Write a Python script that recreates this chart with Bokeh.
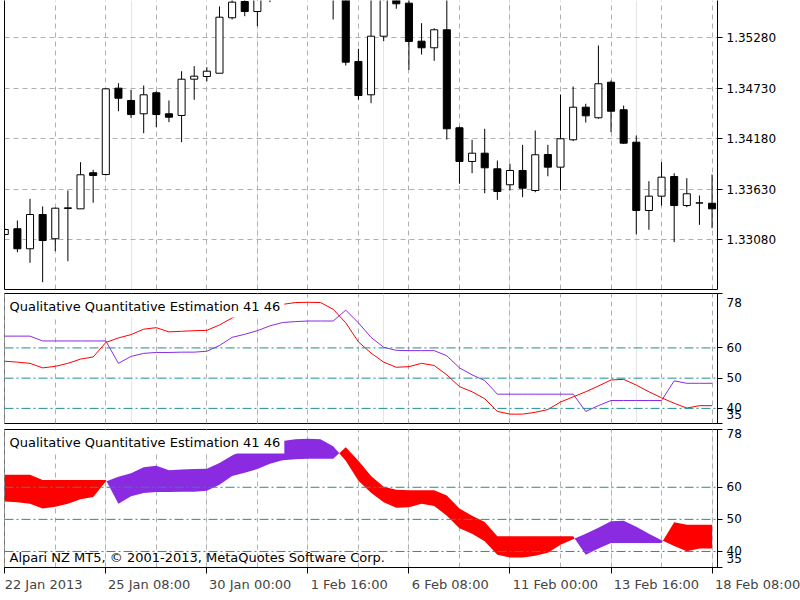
import numpy as np
from bokeh.plotting import figure
from bokeh.layouts import column
from bokeh.models import (Range1d, FixedTicker, LinearAxis, Grid, Span, Label,
                          NumeralTickFormatter)
from bokeh.embed import file_html
from bokeh.resources import INLINE

# ---------------- data ----------------
date_ticks = [0, 8, 16, 24, 32, 40, 48, 56]
date_labels = ["22 Jan 2013", "25 Jan 08:00", "30 Jan 00:00", "1 Feb 16:00",
               "6 Feb 08:00", "11 Feb 00:00", "13 Feb 16:00", "18 Feb 08:00"]

opens = [1.33138, 1.33200, 1.32982, 1.33355, 1.33091, 1.33421, 1.33417, 1.33810, 1.33791, 1.34731,
         1.34597, 1.34452, 1.34681, 1.34452, 1.34434, 1.34829, 1.34858, 1.34894, 1.35498, 1.35675,
         1.35566, 1.35773, 1.35904, 1.36013, 1.35926, 1.36034, 1.35882, 1.35817, 1.35022, 1.34659,
         1.35297, 1.35697, 1.35657, 1.35243, 1.35171, 1.35367, 1.34300, 1.33933, 1.34023, 1.33853,
         1.33679, 1.33835, 1.33617, 1.34009, 1.33871, 1.34169, 1.34524, 1.34409, 1.34796, 1.34496,
         1.34143, 1.33399, 1.33555, 1.33769, 1.33453, 1.33480, 1.33478]
highs = [1.33203, 1.33290, 1.33526, 1.33443, 1.33430, 1.33617, 1.33925, 1.33842, 1.34731, 1.34785,
         1.34713, 1.34760, 1.34698, 1.34597, 1.34916, 1.34971, 1.34960, 1.35621, 1.35719, 1.35708,
         1.35817, 1.35991, 1.36100, 1.36122, 1.36143, 1.36100, 1.35969, 1.35860, 1.35160, 1.35730,
         1.35751, 1.35719, 1.35719, 1.35439, 1.35384, 1.35730, 1.34314, 1.34169, 1.34289, 1.33943,
         1.33908, 1.34114, 1.34270, 1.34114, 1.34662, 1.34749, 1.34561, 1.35196, 1.34815, 1.34542,
         1.34216, 1.33718, 1.33925, 1.33805, 1.33751, 1.33562, 1.33791]
lows = [1.33127, 1.32945, 1.32829, 1.32618, 1.32956, 1.32847, 1.33417, 1.33483, 1.33780, 1.34480,
        1.34408, 1.34241, 1.34306, 1.34361, 1.34143, 1.34605, 1.34807, 1.34894, 1.35479, 1.35515,
        1.35406, 1.35668, 1.35817, 1.35849, 1.35838, 1.35795, 1.35479, 1.34978, 1.34605, 1.34568,
        1.35243, 1.35596, 1.34931, 1.35098, 1.35029, 1.34172, 1.33690, 1.33805, 1.33587, 1.33515,
        1.33617, 1.33544, 1.33598, 1.33772, 1.33617, 1.34154, 1.34357, 1.34398, 1.34252, 1.34125,
        1.33138, 1.33189, 1.33453, 1.33054, 1.33435, 1.33243, 1.33206]
closes = [1.33192, 1.32982, 1.33355, 1.33072, 1.33424, 1.33428, 1.33788, 1.33780, 1.34724, 1.34622,
          1.34444, 1.34659, 1.34444, 1.34415, 1.34829, 1.34862, 1.34916, 1.35504, 1.35668, 1.35566,
          1.35773, 1.35904, 1.36013, 1.35926, 1.36034, 1.35882, 1.35817, 1.35014, 1.34651, 1.35297,
          1.35708, 1.35650, 1.35240, 1.35171, 1.35367, 1.34289, 1.33933, 1.34023, 1.33864, 1.33606,
          1.33835, 1.33642, 1.34006, 1.33871, 1.34180, 1.34524, 1.34430, 1.34779, 1.34480, 1.34132,
          1.33399, 1.33555, 1.33762, 1.33453, 1.33581, 1.33482, 1.33417]

qqe_red = [55.6, 55.3, 54.9, 53.4, 53.9, 54.9, 56.3, 57.0, 61.8, 63.3,
           64.4, 66.2, 66.7, 65.3, 65.5, 65.7, 65.8, 67.6, 69.9, 71.8,
           72.8, 73.6, 74.4, 75.0, 75.1, 75.0, 72.8, 68.3, 62.0, 58.3,
           55.3, 53.6, 53.8, 54.9, 54.2, 51.1, 47.2, 45.5, 43.2, 39.0,
           38.1, 38.1, 38.7, 39.6, 42.1, 43.8, 45.5, 47.4, 49.4, 49.6,
           47.7, 45.5, 43.5, 41.7, 40.1, 40.9, 40.9]
qqe_purple = [63.9, 63.9, 63.9, 62.3, 62.3, 62.3, 62.3, 62.3, 62.3, 54.9,
              57.2, 58.2, 58.5, 58.5, 58.6, 58.6, 58.9, 60.8, 63.5, 64.5,
              65.7, 67.3, 68.4, 68.7, 68.9, 68.9, 68.9, 72.5, 68.3, 63.5,
              60.2, 59.2, 59.1, 59.1, 59.1, 57.4, 53.4, 51.1, 49.2, 44.7,
              44.7, 44.7, 44.7, 44.7, 44.7, 44.7, 39.0, 40.9, 42.6, 42.6,
              42.6, 42.6, 42.6, 49.1, 48.3, 48.3, 48.3]

price_ticks = [1.33080, 1.33630, 1.34180, 1.34730, 1.35280]
qqe_ticks = [35, 40, 50, 60, 78]
qqe_levels = [60, 50, 40]
grid_ticks = list(range(0, 57, 4))

indicator_name = "Qualitative Quantitative Estimation 41 46"
copyright_text = "Alpari NZ MT5, \u00a9 2001-2013, MetaQuotes Software Corp."

# ---------------- styles ----------------
FONT = "DejaVu Sans"
FS = "12px"
FS_TEXT = "13px"
RED = "#ff0000"
PURPLE = "#8a2be2"
TEAL = "#1f8f8f"
GRID = "#b0b0b0"
NBSP = "\u00a0"

x_range = Range1d(-0.02, 56.43)
xs = list(range(len(opens)))


def base_fig(height, y_range, top, bottom, with_xaxis=False):
    p = figure(width=800, height=height, x_range=x_range, y_range=y_range,
               output_backend="svg", toolbar_location=None,
               x_axis_location="below" if with_xaxis else None,
               y_axis_location="right",
               min_border_left=4, min_border_right=83,
               min_border_top=top, min_border_bottom=bottom,
               background_fill_color="white", border_fill_color="white")
    p.add_layout(Grid(dimension=0, ticker=FixedTicker(ticks=grid_ticks),
                      grid_line_color=GRID, grid_line_dash="5 4", grid_line_width=1))
    ax = p.yaxis[0]
    ax.major_tick_out = 5
    ax.major_tick_in = 0
    ax.minor_tick_out = 0
    ax.minor_tick_in = 0
    ax.major_label_standoff = 4
    ax.major_label_text_font = FONT
    ax.major_label_text_font_size = FS
    ax.major_label_text_color = "black"
    ax.axis_line_color = "black"
    ax.major_tick_line_color = "black"
    p.outline_line_color = "black"
    p.outline_line_width = 1
    return p


# ---------------- main candle panel ----------------
p1 = base_fig(291, Range1d(1.325385, 1.35686), 0, 2)
p1.outline_line_color = None
p1.yaxis.ticker = FixedTicker(ticks=price_ticks)
p1.yaxis.formatter = NumeralTickFormatter(format="0.00000")
p1.ygrid.grid_line_color = GRID
p1.ygrid.grid_line_dash = "5 4"

for loc in ("left", "below"):
    edge = LinearAxis(ticker=FixedTicker(ticks=[]), major_tick_out=0, major_tick_in=0,
                      minor_tick_out=0, minor_tick_in=0, major_label_standoff=0,
                      major_label_text_font_size="0px", axis_line_color="black")
    p1.add_layout(edge, loc)

o = np.array(opens); c = np.array(closes)
bull = c >= o
mids = (o + c) / 2.0
hts = np.abs(c - o)
xa_ = np.array(xs)
p1.segment(x0=xs, y0=highs, x1=xs, y1=lows, line_color="black", line_width=1)
p1.rect(x=xa_[bull], y=mids[bull], width=0.56, height=hts[bull],
        fill_color="white", line_color="black", line_width=1)
p1.rect(x=xa_[~bull], y=mids[~bull], width=0.56, height=hts[~bull],
        fill_color="black", line_color="black", line_width=1)


def qqe_axes(p, low_label, high_label, line_height):
    p.yaxis.ticker = FixedTicker(ticks=qqe_ticks)
    # the end labels sit inside the panel (below the top tick / above the bottom tick)
    p.yaxis.major_label_overrides = {35: low_label, 40: "40", 50: "50", 60: "60",
                                     78: high_label}
    p.yaxis.major_label_text_line_height = line_height
    p.ygrid.visible = False
    for v in qqe_levels:
        p.add_layout(Span(location=v, dimension="width", line_color=TEAL,
                          line_dash="9 3 2 3", line_width=1))


def name_label(p):
    p.add_layout(Label(x=x_range.start, y=78, x_offset=1, y_offset=-1,
                       text=indicator_name, text_font=FONT, text_font_size=FS_TEXT,
                       text_baseline="top", text_align="left", text_color="black",
                       background_fill_color="white", padding=4))


# ---------------- QQE lines panel ----------------
p2 = base_fig(135, Range1d(35, 78), 2, 3)
qqe_axes(p2, "35\n", "\n78", 0.3)
p2.line(xs, qqe_purple, line_color=PURPLE, line_width=1)
p2.line(xs, qqe_red, line_color=RED, line_width=1)
name_label(p2)

# ---------------- QQE filled panel ----------------
p3 = base_fig(174, Range1d(35, 78), 3, 33, with_xaxis=True)
qqe_axes(p3, "35\n", "78", 1.2)

fx, fr, fp = [], [], []
for i in range(len(xs)):
    fx.append(xs[i]); fr.append(qqe_red[i]); fp.append(qqe_purple[i])
    if i < len(xs) - 1:
        d0 = qqe_red[i] - qqe_purple[i]
        d1 = qqe_red[i + 1] - qqe_purple[i + 1]
        if d0 * d1 < 0:
            t = d0 / (d0 - d1)
            yc = qqe_red[i] + t * (qqe_red[i + 1] - qqe_red[i])
            fx.append(xs[i] + t); fr.append(yc); fp.append(yc)
upper = np.maximum(fr, fp)
p3.varea(x=fx, y1=fp, y2=upper, fill_color=PURPLE)
p3.varea(x=fx, y1=fr, y2=upper, fill_color=RED)
name_label(p3)
p3.add_layout(Label(x=x_range.start, y=35, x_offset=5, y_offset=3, text=copyright_text,
                    text_font=FONT, text_font_size=FS_TEXT, text_baseline="bottom",
                    text_align="left", text_color="black"))

# date labels: left-aligned at their tick (pad the left side with no-break spaces);
# the first one already sits at the left edge of the page
pad_counts = [1, 21, 21, 20, 20, 22, 22, 22]
xa = p3.xaxis[0]
xa.ticker = FixedTicker(ticks=date_ticks)
xa.major_label_overrides = {t: NBSP * n + lab
                            for t, lab, n in zip(date_ticks, date_labels, pad_counts)}
xa.major_tick_out = 6
xa.major_tick_in = 0
xa.minor_tick_out = 0
xa.minor_tick_in = 0
xa.major_label_standoff = 3
xa.major_label_text_font = FONT
xa.major_label_text_font_size = FS_TEXT
xa.axis_line_color = "black"

layout = column(p1, p2, p3, spacing=0)
open("out.html", "w").write(file_html(layout, INLINE))
